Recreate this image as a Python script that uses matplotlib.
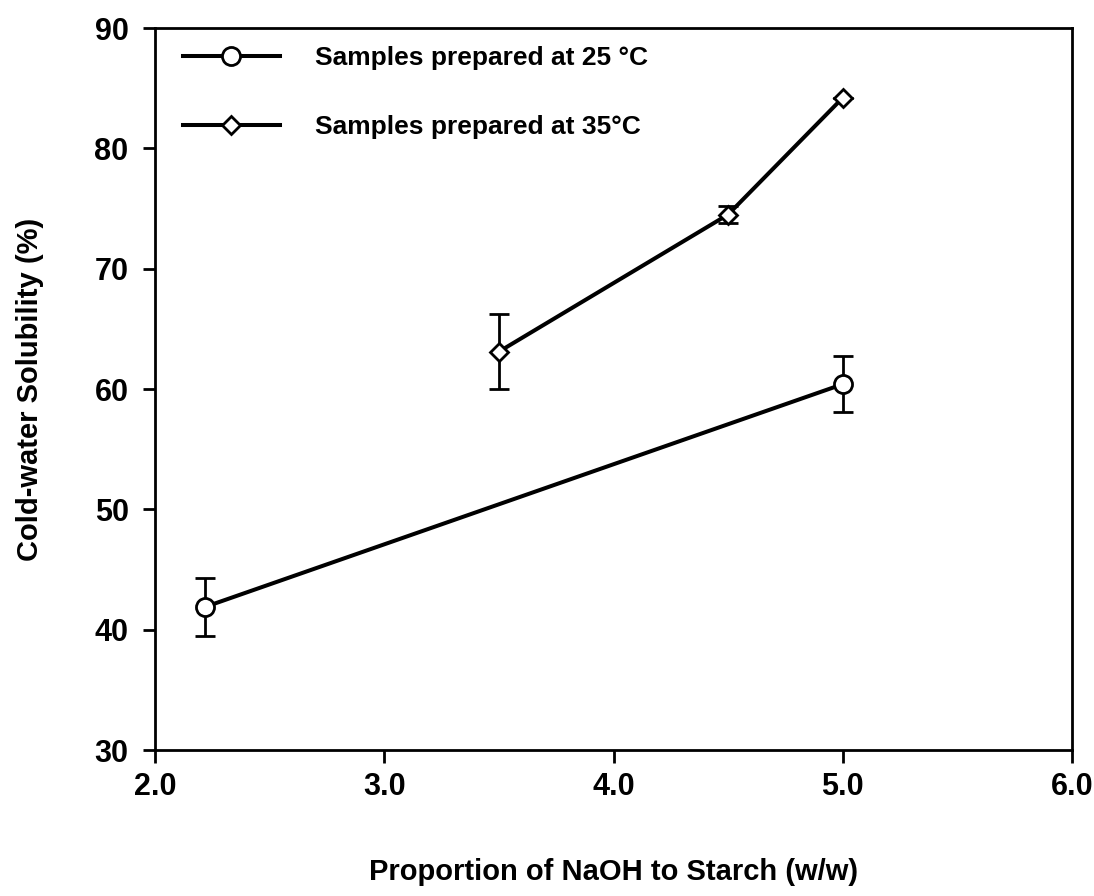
import matplotlib
matplotlib.use('Agg')
import matplotlib.pyplot as plt

plt.rcParams['font.family'] = ['Liberation Sans', 'DejaVu Sans']
plt.rcParams['font.weight'] = 'bold'

x25 = [2.22, 5.0]
y25 = [41.9, 60.4]
e25 = [2.4, 2.35]

x35 = [3.5, 4.5, 5.0]
y35 = [63.1, 74.5, 84.2]
e35 = [3.1, 0.7, 0.0]

xticks = [2.0, 3.0, 4.0, 5.0, 6.0]
yticks = [30, 40, 50, 60, 70, 80, 90]

fig = plt.figure(figsize=(10.94, 8.96), dpi=100)
ax = fig.add_axes([155/1094, 1 - 750/896, (1072-155)/1094, (750-28)/896])

ax.errorbar(x25, y25, yerr=e25, color='black', lw=2.9, marker='o', ms=13,
            mfc='white', mec='black', mew=2, capsize=7, capthick=2, elinewidth=2,
            label='Samples prepared at 25 °C')
ax.errorbar(x35, y35, yerr=e35, color='black', lw=2.9, marker='D', ms=9,
            mfc='white', mec='black', mew=2, capsize=7, capthick=2, elinewidth=2,
            label='Samples prepared at 35°C')

ax.set_xlim(2.0, 6.0)
ax.set_ylim(30, 90)
ax.set_xticks(xticks)
ax.set_xticklabels(['%.1f' % t for t in xticks])
ax.set_yticks(yticks)
for s in ax.spines.values():
    s.set_linewidth(2)
ax.tick_params(direction='out', length=9, width=2, labelsize=22)
ax.tick_params(axis='y', pad=10)
ax.tick_params(axis='x', pad=7)

ax.set_xlabel('Proportion of NaOH to Starch (w/w)', fontsize=21, fontweight='bold', labelpad=40)
ax.set_ylabel('Cold-water Solubility (%)', fontsize=21, fontweight='bold', labelpad=36)

handles, labels = ax.get_legend_handles_labels()
handles = [h[0] for h in handles]
ax.legend(handles, labels, loc='upper left', frameon=False, fontsize=19,
          handlelength=3.7, labelspacing=1.7, handletextpad=1.3,
          borderaxespad=0.3, bbox_to_anchor=(0.01, 1.0))

fig.savefig('out.png', dpi=100)
